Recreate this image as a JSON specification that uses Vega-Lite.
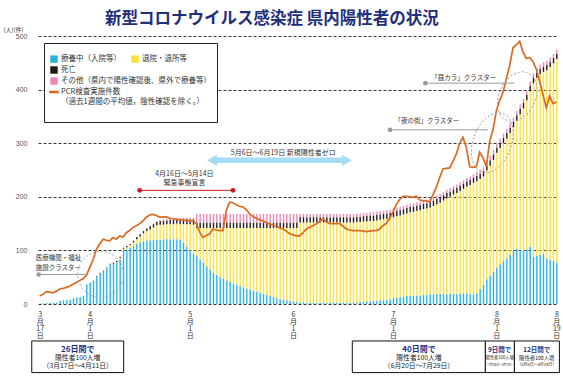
{
"$schema":"https://vega.github.io/schema/vega-lite/v6.json",
"autosize":{"type":"none"},
"width":520,"height":268,
"padding":{"left":38,"top":36,"right":5,"bottom":75},
"background":"white",
"title":{"text":"新型コロナウイルス感染症 県内陽性者の状況","anchor":"start","frame":"group","dx":67,"offset":-1,"fontSize":16.5,"font":"Noto Sans CJK JP","fontWeight":"bold","color":"#1f2f7a"},
"datasets":{
"daily":[
{"date":"2020-03-17","a":1,"b":0,"c":0,"d":0,"pcr":15},
{"date":"2020-03-18","a":1,"b":0,"c":0,"d":0,"pcr":18},
{"date":"2020-03-19","a":2,"b":0,"c":0,"d":0,"pcr":23},
{"date":"2020-03-20","a":2,"b":0,"c":0,"d":0,"pcr":22},
{"date":"2020-03-21","a":3,"b":0,"c":0,"d":0,"pcr":21},
{"date":"2020-03-22","a":3,"b":0,"c":0,"d":0,"pcr":24},
{"date":"2020-03-23","a":6,"b":0,"c":0,"d":0,"pcr":28},
{"date":"2020-03-24","a":7,"b":0,"c":0,"d":0,"pcr":29},
{"date":"2020-03-25","a":8,"b":0,"c":0,"d":0,"pcr":31},
{"date":"2020-03-26","a":8,"b":0,"c":0,"d":0,"pcr":33},
{"date":"2020-03-27","a":11,"b":0,"c":0,"d":0,"pcr":37},
{"date":"2020-03-28","a":12,"b":0,"c":0,"d":0,"pcr":40},
{"date":"2020-03-29","a":13,"b":0,"c":0,"d":0,"pcr":44},
{"date":"2020-03-30","a":15,"b":0,"c":0,"d":0,"pcr":47},
{"date":"2020-03-31","a":37,"b":0,"c":0,"d":0,"pcr":53},
{"date":"2020-04-01","a":40,"b":0,"c":0,"d":0,"pcr":68},
{"date":"2020-04-02","a":44,"b":0,"c":0,"d":0,"pcr":82},
{"date":"2020-04-03","a":51,"b":0,"c":1,"d":0,"pcr":102},
{"date":"2020-04-04","a":57,"b":0,"c":1,"d":0,"pcr":112},
{"date":"2020-04-05","a":61,"b":0,"c":1,"d":0,"pcr":121},
{"date":"2020-04-06","a":67,"b":0,"c":1,"d":0,"pcr":119},
{"date":"2020-04-07","a":74,"b":0,"c":1,"d":0,"pcr":118},
{"date":"2020-04-08","a":75,"b":0,"c":2,"d":0,"pcr":124},
{"date":"2020-04-09","a":77,"b":1,"c":2,"d":0,"pcr":121},
{"date":"2020-04-10","a":83,"b":3,"c":2,"d":0,"pcr":127},
{"date":"2020-04-11","a":100,"b":3,"c":2,"d":0,"pcr":125},
{"date":"2020-04-12","a":102,"b":4,"c":2,"d":0,"pcr":133},
{"date":"2020-04-13","a":105,"b":5,"c":2,"d":0,"pcr":137},
{"date":"2020-04-14","a":108,"b":7,"c":3,"d":0,"pcr":143},
{"date":"2020-04-15","a":112,"b":9,"c":4,"d":0,"pcr":146},
{"date":"2020-04-16","a":115,"b":11,"c":4,"d":1,"pcr":150},
{"date":"2020-04-17","a":117,"b":15,"c":4,"d":1,"pcr":155},
{"date":"2020-04-18","a":118,"b":18,"c":5,"d":1,"pcr":162},
{"date":"2020-04-19","a":119,"b":20,"c":6,"d":1,"pcr":166},
{"date":"2020-04-20","a":119,"b":24,"c":6,"d":1,"pcr":167},
{"date":"2020-04-21","a":120,"b":27,"c":6,"d":1,"pcr":165},
{"date":"2020-04-22","a":120,"b":28,"c":7,"d":1,"pcr":162},
{"date":"2020-04-23","a":121,"b":27,"c":7,"d":3,"pcr":162},
{"date":"2020-04-24","a":121,"b":28,"c":7,"d":3,"pcr":163},
{"date":"2020-04-25","a":121,"b":28,"c":8,"d":3,"pcr":160},
{"date":"2020-04-26","a":121,"b":28,"c":8,"d":3,"pcr":159},
{"date":"2020-04-27","a":121,"b":29,"c":8,"d":3,"pcr":158},
{"date":"2020-04-28","a":120,"b":29,"c":9,"d":3,"pcr":157},
{"date":"2020-04-29","a":114,"b":35,"c":9,"d":3,"pcr":157},
{"date":"2020-04-30","a":107,"b":42,"c":9,"d":3,"pcr":156},
{"date":"2020-05-01","a":100,"b":49,"c":9,"d":3,"pcr":155},
{"date":"2020-05-02","a":94,"b":54,"c":10,"d":3,"pcr":155},
{"date":"2020-05-03","a":89,"b":53,"c":10,"d":16,"pcr":150},
{"date":"2020-05-04","a":83,"b":59,"c":10,"d":16,"pcr":134},
{"date":"2020-05-05","a":77,"b":65,"c":10,"d":16,"pcr":124},
{"date":"2020-05-06","a":70,"b":72,"c":10,"d":16,"pcr":128},
{"date":"2020-05-07","a":64,"b":78,"c":10,"d":16,"pcr":131},
{"date":"2020-05-08","a":58,"b":84,"c":10,"d":16,"pcr":140},
{"date":"2020-05-09","a":54,"b":88,"c":10,"d":16,"pcr":138},
{"date":"2020-05-10","a":50,"b":92,"c":10,"d":16,"pcr":137},
{"date":"2020-05-11","a":47,"b":95,"c":10,"d":16,"pcr":137},
{"date":"2020-05-12","a":44,"b":98,"c":10,"d":16,"pcr":175},
{"date":"2020-05-13","a":41,"b":101,"c":10,"d":16,"pcr":190},
{"date":"2020-05-14","a":38,"b":104,"c":10,"d":16,"pcr":189},
{"date":"2020-05-15","a":36,"b":106,"c":10,"d":16,"pcr":185},
{"date":"2020-05-16","a":33,"b":109,"c":10,"d":16,"pcr":182},
{"date":"2020-05-17","a":31,"b":111,"c":10,"d":16,"pcr":181},
{"date":"2020-05-18","a":29,"b":113,"c":10,"d":16,"pcr":176},
{"date":"2020-05-19","a":27,"b":115,"c":10,"d":16,"pcr":168},
{"date":"2020-05-20","a":25,"b":117,"c":10,"d":16,"pcr":163},
{"date":"2020-05-21","a":23,"b":119,"c":10,"d":16,"pcr":160},
{"date":"2020-05-22","a":21,"b":121,"c":10,"d":16,"pcr":157},
{"date":"2020-05-23","a":19,"b":123,"c":10,"d":16,"pcr":155},
{"date":"2020-05-24","a":17,"b":125,"c":10,"d":16,"pcr":152},
{"date":"2020-05-25","a":15,"b":127,"c":10,"d":16,"pcr":149},
{"date":"2020-05-26","a":13,"b":129,"c":10,"d":16,"pcr":147},
{"date":"2020-05-27","a":11,"b":131,"c":10,"d":16,"pcr":145},
{"date":"2020-05-28","a":9,"b":133,"c":10,"d":16,"pcr":142},
{"date":"2020-05-29","a":8,"b":134,"c":10,"d":16,"pcr":140},
{"date":"2020-05-30","a":7,"b":135,"c":10,"d":16,"pcr":136},
{"date":"2020-05-31","a":6,"b":136,"c":10,"d":16,"pcr":131},
{"date":"2020-06-01","a":5,"b":137,"c":10,"d":16,"pcr":129},
{"date":"2020-06-02","a":4,"b":138,"c":10,"d":16,"pcr":127},
{"date":"2020-06-03","a":3,"b":149,"c":10,"d":6,"pcr":127},
{"date":"2020-06-04","a":3,"b":149,"c":10,"d":6,"pcr":133},
{"date":"2020-06-05","a":2,"b":150,"c":10,"d":6,"pcr":140},
{"date":"2020-06-06","a":2,"b":150,"c":10,"d":6,"pcr":143},
{"date":"2020-06-07","a":2,"b":150,"c":10,"d":6,"pcr":146},
{"date":"2020-06-08","a":2,"b":150,"c":10,"d":6,"pcr":150},
{"date":"2020-06-09","a":2,"b":150,"c":10,"d":6,"pcr":154},
{"date":"2020-06-10","a":2,"b":150,"c":10,"d":6,"pcr":159},
{"date":"2020-06-11","a":2,"b":150,"c":10,"d":6,"pcr":153},
{"date":"2020-06-12","a":2,"b":150,"c":10,"d":6,"pcr":150},
{"date":"2020-06-13","a":2,"b":150,"c":10,"d":6,"pcr":150},
{"date":"2020-06-14","a":2,"b":150,"c":10,"d":6,"pcr":150},
{"date":"2020-06-15","a":2,"b":150,"c":10,"d":6,"pcr":150},
{"date":"2020-06-16","a":2,"b":150,"c":10,"d":6,"pcr":145},
{"date":"2020-06-17","a":2,"b":150,"c":10,"d":6,"pcr":140},
{"date":"2020-06-18","a":2,"b":150,"c":10,"d":6,"pcr":138},
{"date":"2020-06-19","a":2,"b":150,"c":10,"d":6,"pcr":137},
{"date":"2020-06-20","a":3,"b":150,"c":10,"d":6,"pcr":137},
{"date":"2020-06-21","a":4,"b":149,"c":10,"d":6,"pcr":137},
{"date":"2020-06-22","a":4,"b":150,"c":10,"d":6,"pcr":136},
{"date":"2020-06-23","a":5,"b":149,"c":10,"d":6,"pcr":135},
{"date":"2020-06-24","a":5,"b":150,"c":10,"d":6,"pcr":136},
{"date":"2020-06-25","a":6,"b":149,"c":10,"d":6,"pcr":137},
{"date":"2020-06-26","a":6,"b":150,"c":10,"d":6,"pcr":137},
{"date":"2020-06-27","a":7,"b":150,"c":10,"d":6,"pcr":140},
{"date":"2020-06-28","a":7,"b":151,"c":10,"d":6,"pcr":146},
{"date":"2020-06-29","a":8,"b":151,"c":10,"d":6,"pcr":151},
{"date":"2020-06-30","a":9,"b":151,"c":10,"d":6,"pcr":160},
{"date":"2020-07-01","a":11,"b":151,"c":10,"d":6,"pcr":172},
{"date":"2020-07-02","a":12,"b":152,"c":10,"d":6,"pcr":186},
{"date":"2020-07-03","a":13,"b":152,"c":10,"d":6,"pcr":195},
{"date":"2020-07-04","a":14,"b":153,"c":10,"d":6,"pcr":201},
{"date":"2020-07-05","a":15,"b":154,"c":10,"d":6,"pcr":201},
{"date":"2020-07-06","a":15,"b":156,"c":10,"d":6,"pcr":200},
{"date":"2020-07-07","a":16,"b":156,"c":10,"d":6,"pcr":199},
{"date":"2020-07-08","a":16,"b":158,"c":10,"d":6,"pcr":201},
{"date":"2020-07-09","a":16,"b":159,"c":10,"d":6,"pcr":194},
{"date":"2020-07-10","a":17,"b":160,"c":10,"d":6,"pcr":193},
{"date":"2020-07-11","a":17,"b":161,"c":10,"d":6,"pcr":193},
{"date":"2020-07-12","a":18,"b":162,"c":10,"d":6,"pcr":190},
{"date":"2020-07-13","a":18,"b":165,"c":10,"d":6,"pcr":204},
{"date":"2020-07-14","a":18,"b":168,"c":10,"d":6,"pcr":218},
{"date":"2020-07-15","a":19,"b":170,"c":10,"d":6,"pcr":236},
{"date":"2020-07-16","a":19,"b":174,"c":10,"d":6,"pcr":252},
{"date":"2020-07-17","a":18,"b":179,"c":10,"d":6,"pcr":253},
{"date":"2020-07-18","a":19,"b":181,"c":10,"d":6,"pcr":254},
{"date":"2020-07-19","a":19,"b":185,"c":10,"d":6,"pcr":266},
{"date":"2020-07-20","a":18,"b":189,"c":10,"d":6,"pcr":280},
{"date":"2020-07-21","a":19,"b":192,"c":10,"d":6,"pcr":300},
{"date":"2020-07-22","a":20,"b":195,"c":10,"d":6,"pcr":311},
{"date":"2020-07-23","a":19,"b":200,"c":10,"d":6,"pcr":292},
{"date":"2020-07-24","a":18,"b":204,"c":10,"d":6,"pcr":256},
{"date":"2020-07-25","a":18,"b":208,"c":10,"d":6,"pcr":255},
{"date":"2020-07-26","a":20,"b":209,"c":10,"d":8,"pcr":256},
{"date":"2020-07-27","a":28,"b":205,"c":10,"d":8,"pcr":283},
{"date":"2020-07-28","a":36,"b":202,"c":10,"d":8,"pcr":273},
{"date":"2020-07-29","a":46,"b":203,"c":10,"d":8,"pcr":256},
{"date":"2020-07-30","a":53,"b":205,"c":10,"d":8,"pcr":304},
{"date":"2020-07-31","a":60,"b":209,"c":10,"d":8,"pcr":325},
{"date":"2020-08-01","a":68,"b":214,"c":10,"d":8,"pcr":360},
{"date":"2020-08-02","a":74,"b":217,"c":10,"d":8,"pcr":380},
{"date":"2020-08-03","a":80,"b":220,"c":10,"d":8,"pcr":395},
{"date":"2020-08-04","a":85,"b":224,"c":10,"d":8,"pcr":420},
{"date":"2020-08-05","a":92,"b":227,"c":10,"d":8,"pcr":445},
{"date":"2020-08-06","a":100,"b":230,"c":10,"d":8,"pcr":478},
{"date":"2020-08-07","a":103,"b":239,"c":10,"d":8,"pcr":484},
{"date":"2020-08-08","a":101,"b":253,"c":10,"d":8,"pcr":490},
{"date":"2020-08-09","a":99,"b":266,"c":10,"d":8,"pcr":470},
{"date":"2020-08-10","a":102,"b":278,"c":10,"d":8,"pcr":458},
{"date":"2020-08-11","a":107,"b":290,"c":10,"d":8,"pcr":460},
{"date":"2020-08-12","a":88,"b":324,"c":10,"d":8,"pcr":452},
{"date":"2020-08-13","a":90,"b":332,"c":10,"d":8,"pcr":438},
{"date":"2020-08-14","a":92,"b":337,"c":10,"d":8,"pcr":415},
{"date":"2020-08-15","a":93,"b":340,"c":10,"d":8,"pcr":390},
{"date":"2020-08-16","a":85,"b":351,"c":10,"d":8,"pcr":366},
{"date":"2020-08-17","a":82,"b":360,"c":10,"d":8,"pcr":388},
{"date":"2020-08-18","a":80,"b":369,"c":10,"d":8,"pcr":374},
{"date":"2020-08-19","a":77,"b":380,"c":10,"d":8,"pcr":377}
],
"segs":[
{"g":"emg","x":"2020-04-16T12:00:00Z","x2":"2020-05-14T12:00:00Z","v":212},
{"g":"zero","x":"2020-05-08T04:30:00Z","x2":"2020-06-17T17:00:00Z","v":268},
{"g":"lead","x":"2020-03-17T05:00:00Z","x2":"2020-03-31T07:00:00Z","v":55},
{"g":"lead","x":"2020-06-30T15:00:00Z","x2":"2020-07-29T22:00:00Z","v":325},
{"g":"lead","x":"2020-07-11T05:00:00Z","x2":"2020-08-06T22:00:00Z","v":412}
],
"dots":[
{"g":"emg","x":"2020-04-16T12:00:00Z","v":212},
{"g":"emg","x":"2020-05-14T12:00:00Z","v":212},
{"g":"lead","x":"2020-03-17T05:00:00Z","v":55},
{"g":"lead","x":"2020-06-30T15:00:00Z","v":325},
{"g":"lead","x":"2020-07-11T05:00:00Z","v":412}
],
"heads":[
{"dir":"l","x":"2020-05-08T04:30:00Z","v":268},
{"dir":"r","x":"2020-06-17T17:00:00Z","v":268}
],
"ovals":[
{"g":"iryo","x":"2020-04-04T19:00:00Z","v":55},
{"g":"yoru","x":"2020-07-31T07:00:00Z","v":301},
{"g":"hiru","x":"2020-08-07T19:00:00Z","v":387}
],
"notes":[
{"g":"c","x":"2020-04-29T22:00:00Z","v":243,"t":"4月16日～5月14日"},
{"g":"c","x":"2020-04-29T22:00:00Z","v":225,"t":"緊急事態宣言"},
{"g":"c","x":"2020-05-29T14:00:00Z","v":282,"t":"5月6日～6月19日 新規陽性者ゼロ"},
{"g":"l","x":"2020-03-16T07:30:00Z","v":85,"t":"医療機関・福祉"},
{"g":"l","x":"2020-03-16T07:30:00Z","v":68,"t":"施設クラスター"},
{"g":"l","x":"2020-07-01T22:00:00Z","v":342,"t":"「夜の街」クラスター"},
{"g":"l","x":"2020-07-13T00:00:00Z","v":421,"t":"「昼カラ」クラスター"}
],
"boxes":[
{"x":"2020-03-15T03:00:00Z","x2":"2020-04-11T17:00:00Z"},
{"x":"2020-06-19T07:00:00Z","x2":"2020-07-29T05:00:00Z"},
{"x":"2020-07-29T05:00:00Z","x2":"2020-08-06T22:00:00Z"},
{"x":"2020-08-06T22:00:00Z","x2":"2020-08-20T10:00:00Z"}
],
"btext":[
{"g":"h","x":"2020-03-28T22:00:00Z","v":-86,"t":"26日間で"},
{"g":"m","x":"2020-03-28T22:00:00Z","v":-101,"t":"陽性者100人増"},
{"g":"m","x":"2020-03-28T22:00:00Z","v":-116,"t":"（3月17日～4月11日）"},
{"g":"h","x":"2020-07-09T07:00:00Z","v":-86,"t":"40日間で"},
{"g":"m","x":"2020-07-09T07:00:00Z","v":-101,"t":"陽性者100人増"},
{"g":"m","x":"2020-07-09T07:00:00Z","v":-116,"t":"（6月20日～7月29日）"},
{"g":"hs","x":"2020-08-02T12:00:00Z","v":-86,"t":"9日間で"},
{"g":"s3","x":"2020-08-02T12:00:00Z","v":-101,"t":"陽性者100人増"},
{"g":"t3","x":"2020-08-02T12:00:00Z","v":-114,"t":"（7月30日～8月7日）"},
{"g":"hs","x":"2020-08-13T15:00:00Z","v":-86,"t":"12日間で"},
{"g":"s4","x":"2020-08-13T15:00:00Z","v":-101,"t":"陽性者100人増"},
{"g":"t4","x":"2020-08-13T15:00:00Z","v":-114,"t":"（8月8日～8月19日）"}
]
},
"layer":[
{
"data":{"name":"daily"},
"transform":[{"fold":["a","b","c","d"],"as":["cat","val"]}],
"mark":{"type":"bar","width":{"band":0.72}},
"encoding":{
"x":{"field":"date","timeUnit":"utcyearmonthdate","type":"temporal",
"scale":{"type":"utc","domain":[{"year":2020,"month":3,"date":17,"utc":true},{"year":2020,"month":8,"date":20,"utc":true}]},
"axis":{"values":[{"year":2020,"month":3,"date":17,"hours":12,"utc":true},{"year":2020,"month":4,"date":1,"hours":12,"utc":true},{"year":2020,"month":5,"date":1,"hours":12,"utc":true},{"year":2020,"month":6,"date":1,"hours":12,"utc":true},{"year":2020,"month":7,"date":1,"hours":12,"utc":true},{"year":2020,"month":8,"date":1,"hours":12,"utc":true},{"year":2020,"month":8,"date":19,"hours":12,"utc":true}],
"labelExpr":"[utcFormat(datum.value,'%-m'),'月',utcFormat(datum.value,'%-d'),'日']",
"title":null,"labelAngle":0}},
"y":{"field":"val","type":"quantitative","stack":"zero",
"scale":{"domain":[0,500],"nice":false},
"axis":{"values":[0,100,200,300,400,500],"title":"(人)(件)"}},
"color":{"field":"cat","type":"nominal",
"scale":{"domain":["a","b","c","d"],"range":["#2cb2e1","#fce13c","#231815","#ec87b6"]},
"legend":{"values":["a","b"],"orient":"none","legendX":12,"legendY":19,"direction":"horizontal","title":null,"padding":0,
"symbolType":"square","symbolSize":55,"symbolStrokeWidth":0,"labelFontSize":7.5,"labelFont":"Noto Sans CJK JP","labelColor":"#333","labelLimit":300,"columnPadding":10,"labelOffset":3,"zindex":3,
"labelExpr":"datum.value=='a'?'療養中（入院等）':'退院・退所等'"}},
"order":{"field":"cat","sort":"ascending"}
}
},
{
"data":{"name":"daily"},
"mark":{"type":"line","strokeWidth":1.7},
"encoding":{
"x":{"field":"date","timeUnit":"utcyearmonthdate","type":"temporal","bandPosition":0.5,"scale":{"type":"utc"}},
"y":{"field":"pcr","type":"quantitative"},
"stroke":{"datum":"pcr","type":"nominal",
"scale":{"domain":["c","d","pcr","e"],"range":["#231815","#ec87b6","#dc6a23","rgba(0,0,0,0)"]},
"legend":{"orient":"none","legendX":6,"legendY":7,"direction":"vertical","title":".","titleColor":"#ffffff","titleFontSize":8,"titlePadding":9,"fillColor":"#fff","strokeColor":"#222","padding":6,
"symbolSize":55,"labelFontSize":7.5,"labelFont":"Noto Sans CJK JP","labelColor":"#333","labelLimit":300,"rowPadding":3,"labelOffset":3,"zindex":2,
"labelExpr":"datum.value=='c'?'死亡':datum.value=='d'?'その他（県内で陽性確認後、県外で療養等）':datum.value=='pcr'?['PCR検査実施件数','（過去1週間の平均値，陰性確認を除く。）']:''",
"encode":{"symbols":{"update":{"shape":{"signal":"datum.value==='pcr'?'M-1.3,-0.35H1.3V0.35H-1.3Z':'square'"},"fill":{"scale":"stroke","field":"value"},"strokeWidth":{"value":0},"size":{"signal":"datum.value==='e'?0:55"},"opacity":{"value":1}}}}}}
}
},
{
"data":{"name":"segs"},
"transform":[{"filter":"datum.g==='zero'"}],
"mark":{"type":"rule","color":"#a6dcf5","strokeWidth":5.5},
"encoding":{"x":{"field":"x","type":"temporal","scale":{"type":"utc"}},"x2":{"field":"x2"},"y":{"field":"v","type":"quantitative"}}
},
{
"data":{"name":"heads"},
"mark":{"type":"point","filled":true,"size":130,"color":"#a6dcf5","opacity":1},
"encoding":{"x":{"field":"x","type":"temporal","scale":{"type":"utc"}},"y":{"field":"v","type":"quantitative"},
"shape":{"field":"dir","type":"nominal","scale":{"domain":["l","r"],"range":["triangle-left","triangle-right"]},"legend":null}}
},
{
"data":{"name":"segs"},
"transform":[{"filter":"datum.g==='emg'"}],
"mark":{"type":"rule","color":"#cc1a22","strokeWidth":1},
"encoding":{"x":{"field":"x","type":"temporal","scale":{"type":"utc"}},"x2":{"field":"x2"},"y":{"field":"v","type":"quantitative"}}
},
{
"data":{"name":"segs"},
"transform":[{"filter":"datum.g==='lead'"}],
"mark":{"type":"rule","color":"#9a9a9a","strokeWidth":1},
"encoding":{"x":{"field":"x","type":"temporal","scale":{"type":"utc"}},"x2":{"field":"x2"},"y":{"field":"v","type":"quantitative"}}
},
{
"data":{"name":"dots"},
"transform":[{"filter":"datum.g==='emg'"}],
"mark":{"type":"circle","size":24,"color":"#cc1a22","opacity":1},
"encoding":{"x":{"field":"x","type":"temporal","scale":{"type":"utc"}},"y":{"field":"v","type":"quantitative"}}
},
{
"data":{"name":"dots"},
"transform":[{"filter":"datum.g==='lead'"}],
"mark":{"type":"circle","size":22,"color":"#9a9a9a","opacity":1},
"encoding":{"x":{"field":"x","type":"temporal","scale":{"type":"utc"}},"y":{"field":"v","type":"quantitative"}}
},
{
"data":{"name":"ovals"},
"transform":[{"filter":"datum.g==='iryo'"}],
"mark":{"type":"point","shape":"circle","size":2116,"filled":false,"stroke":"#a0a0a0","strokeWidth":0.9,"strokeDash":[2,2],"opacity":1},
"encoding":{"x":{"field":"x","type":"temporal","scale":{"type":"utc"}},"y":{"field":"v","type":"quantitative"}}
},
{
"data":{"name":"ovals"},
"transform":[{"filter":"datum.g==='yoru'"}],
"mark":{"type":"point","shape":"M-0.62,0A0.62,1,0,1,1,0.62,0A0.62,1,0,1,1,-0.62,0Z","size":3844,"angle":20,"filled":false,"stroke":"#a0a0a0","strokeWidth":0.9,"strokeDash":[2,2],"opacity":1},
"encoding":{"x":{"field":"x","type":"temporal","scale":{"type":"utc"}},"y":{"field":"v","type":"quantitative"}}
},
{
"data":{"name":"ovals"},
"transform":[{"filter":"datum.g==='hiru'"}],
"mark":{"type":"point","shape":"M-0.7,0A0.7,1,0,1,1,0.7,0A0.7,1,0,1,1,-0.7,0Z","size":2704,"angle":25,"filled":false,"stroke":"#a0a0a0","strokeWidth":0.9,"strokeDash":[2,2],"opacity":1},
"encoding":{"x":{"field":"x","type":"temporal","scale":{"type":"utc"}},"y":{"field":"v","type":"quantitative"}}
},
{
"data":{"name":"notes"},
"transform":[{"filter":"datum.g==='c'"}],
"mark":{"type":"text","align":"center","baseline":"middle","fontSize":7,"color":"#333","font":"Noto Sans CJK JP"},
"encoding":{"x":{"field":"x","type":"temporal","scale":{"type":"utc"}},"y":{"field":"v","type":"quantitative"},"text":{"field":"t"}}
},
{
"data":{"name":"notes"},
"transform":[{"filter":"datum.g==='l'"}],
"mark":{"type":"text","align":"left","baseline":"middle","fontSize":6.5,"color":"#333","font":"Noto Sans CJK JP"},
"encoding":{"x":{"field":"x","type":"temporal","scale":{"type":"utc"}},"y":{"field":"v","type":"quantitative"},"text":{"field":"t"}}
},
{
"data":{"name":"boxes"},
"mark":{"type":"rect","fill":"#fff","stroke":"#111","strokeWidth":1},
"encoding":{"x":{"field":"x","type":"temporal","scale":{"type":"utc"}},"x2":{"field":"x2"},"y":{"datum":-69,"type":"quantitative"},"y2":{"datum":-128}}
},
{
"data":{"name":"btext"},
"transform":[{"filter":"datum.g==='h'||datum.g==='hs'"}],
"mark":{"type":"text","align":"center","baseline":"middle","color":"#1f2f85","fontWeight":"bold","font":"Noto Sans CJK JP"},
"encoding":{"x":{"field":"x","type":"temporal","scale":{"type":"utc"}},"y":{"field":"v","type":"quantitative"},"text":{"field":"t"},
"size":{"field":"g","type":"ordinal","scale":{"type":"ordinal","domain":["h","hs","m","s3","t3","s4","t4"],"range":[8,6.5,6.8,4.2,2.9,5.3,4]},"legend":null}}
},
{
"data":{"name":"btext"},
"transform":[{"filter":"datum.g!=='h'&&datum.g!=='hs'"}],
"mark":{"type":"text","align":"center","baseline":"middle","color":"#222","font":"Noto Sans CJK JP"},
"encoding":{"x":{"field":"x","type":"temporal","scale":{"type":"utc"}},"y":{"field":"v","type":"quantitative"},"text":{"field":"t"},
"size":{"field":"g","type":"ordinal","scale":{"type":"ordinal","domain":["h","hs","m","s3","t3","s4","t4"],"range":[8,6.5,6.8,4.2,2.9,5.3,4]},"legend":null}}
}
],
"config":{"view":{"stroke":null},"font":"Noto Sans CJK JP",
"axisX":{"domain":false,"ticks":false,"grid":false,"labelBaseline":"top","labelAlign":"center","labelFontSize":7,"labelLineHeight":7,"labelPadding":6,"labelColor":"#333","labelOverlap":false,"labelFlush":false,"labelFont":"Noto Sans CJK JP"},
"axisY":{"titleAngle":0,"titleAlign":"left","titleBaseline":"bottom","titleX":-35,"titleY":-4,"titleFontSize":6,"titleFontWeight":"normal","titleColor":"#333","titleFont":"Noto Sans CJK JP",
"domain":false,"ticks":false,"labelPadding":11,"labelFontSize":7,"labelColor":"#555","labelFont":"Liberation Sans",
"grid":true,"gridDash":[3,2],"gridColor":"#000","gridWidth":0.8,"zindex":1}
}
}
